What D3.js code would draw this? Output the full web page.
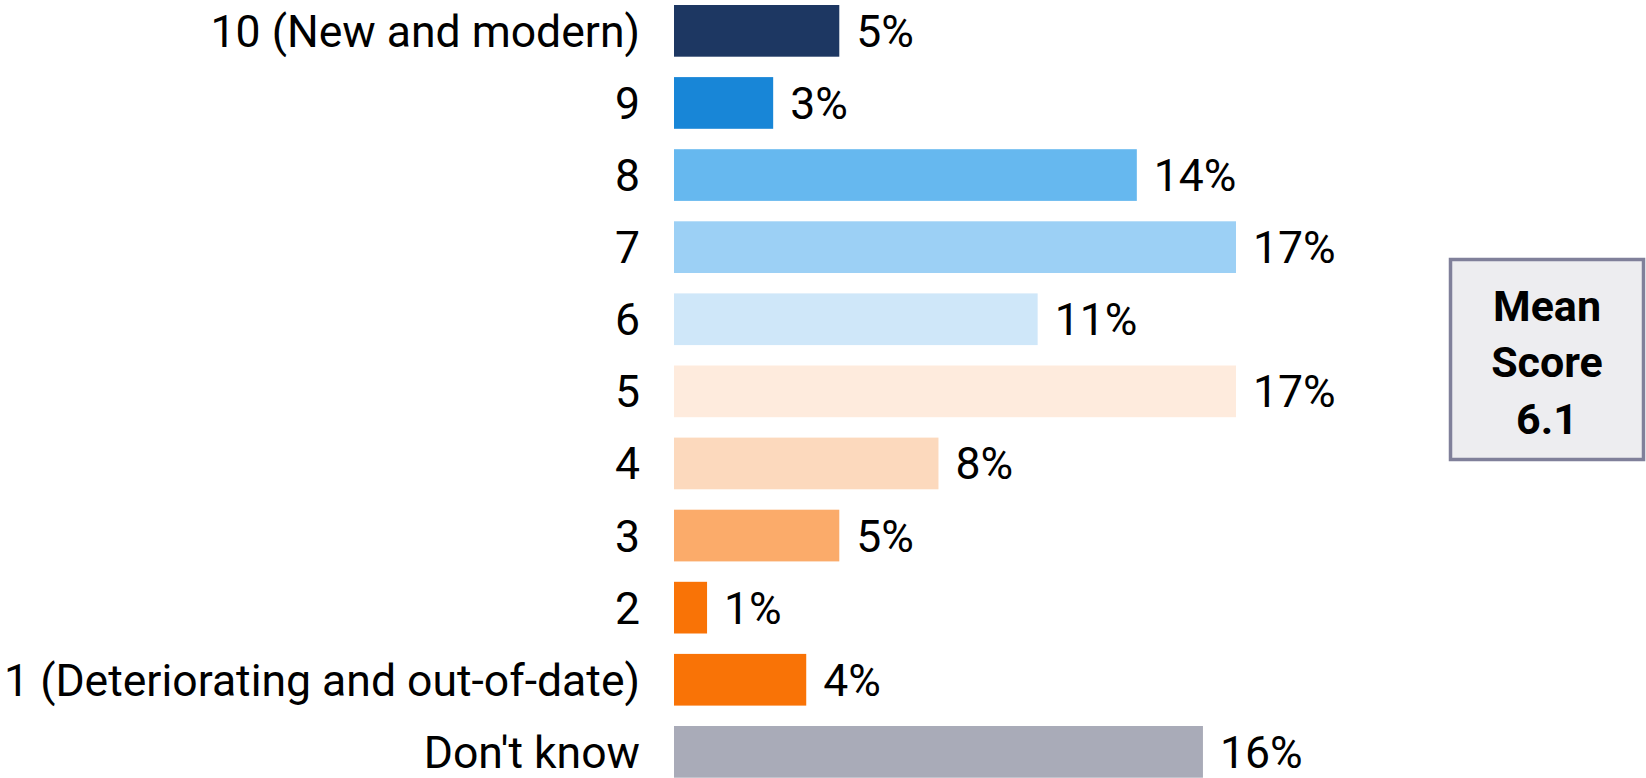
<!DOCTYPE html>
<html>
<head>
<meta charset="utf-8">
<script src="https://cdn.jsdelivr.net/npm/d3@7/dist/d3.min.js"></script>
<style>
  html, body { margin: 0; padding: 0; background: #ffffff; }
  svg { display: block; }
</style>
</head>
<body>
<svg id="chart" width="1646" height="778"></svg>
<script>
// ---- data ----
const categories = ["10 (New and modern)", "9", "8", "7", "6", "5", "4", "3", "2",
                    "1 (Deteriorating and out-of-date)", "Don't know"];
const values = [5, 3, 14, 17, 11, 17, 8, 5, 1, 4, 16];
const barColors = ["#1D3762", "#1886D7", "#66B8EF", "#9CD0F5", "#CFE7F9", "#FEEBDD",
                   "#FCD9BD", "#FBAB6A", "#F97306", "#F97306", "#A9ABB8"];
const meanLines = ["Mean", "Score", "6.1"];

// ---- layout ----
const svg = d3.select("#chart");
const FONT = "Roboto, 'Open Sans', sans-serif";

// fit label font size to available width for the longest label
const probe = svg.append("text").attr("font-family", FONT).attr("font-size", 100)
  .text(categories[9]);
const w100 = probe.node().getComputedTextLength();
probe.remove();
const fontSize = Math.min(45, 100 * 636 / w100);

const x = d3.scaleLinear().domain([0, 17]).range([674, 1236]);
const y = d3.scaleBand().domain(categories).range([5, 777.7]).paddingInner(0.283).paddingOuter(0);

const rows = svg.append("g").selectAll("g").data(categories).join("g");

rows.append("rect")
  .attr("x", x(0))
  .attr("y", d => y(d))
  .attr("width", (d, i) => x(values[i]) - x(0))
  .attr("height", y.bandwidth())
  .attr("fill", (d, i) => barColors[i]);

rows.append("text")
  .attr("x", 640)
  .attr("y", d => y(d) + y.bandwidth() / 2)
  .attr("dy", "0.36em")
  .attr("text-anchor", "end")
  .attr("font-family", FONT)
  .attr("font-size", fontSize)
  .attr("fill", "#000")
  .text(d => d);

rows.append("text")
  .attr("x", (d, i) => x(values[i]) + 17)
  .attr("y", d => y(d) + y.bandwidth() / 2)
  .attr("dy", "0.36em")
  .attr("font-family", FONT)
  .attr("font-size", fontSize)
  .attr("fill", "#000")
  .text((d, i) => values[i] + "%");

// ---- mean score box ----
const box = svg.append("g");
box.append("rect")
  .attr("x", 1450.5).attr("y", 259.5)
  .attr("width", 193).attr("height", 200)
  .attr("fill", "#EDEDF0")
  .attr("stroke", "#80809A")
  .attr("stroke-width", 3.5);
const baselines = [321, 377, 434];
box.selectAll("text.mean").data(meanLines).join("text")
  .attr("class", "mean")
  .attr("x", 1547)
  .attr("y", (d, i) => baselines[i])
  .attr("text-anchor", "middle")
  .attr("font-family", FONT)
  .attr("font-weight", "bold")
  .attr("font-size", 43)
  .attr("fill", "#000")
  .text(d => d);
</script>
</body>
</html>
